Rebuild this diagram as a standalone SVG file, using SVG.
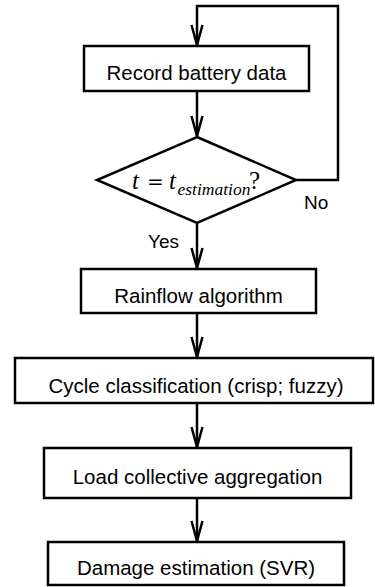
<svg xmlns="http://www.w3.org/2000/svg" width="375" height="587" viewBox="0 0 375 587">
<style>
.box{fill:#fff;stroke:#000;stroke-width:2.5}
.lbl{font-family:"Liberation Sans",Arial,sans-serif;font-size:20.5px;fill:#000;text-anchor:middle}
.edge{fill:none;stroke:#000;stroke-width:2.5}
.small{font-family:"Liberation Sans",Arial,sans-serif;font-size:19px;fill:#000}
.math{font-family:"Liberation Serif","Times New Roman",serif;fill:#000}
</style>
<defs>
<marker id="arr" markerUnits="userSpaceOnUse" markerWidth="24" markerHeight="14" viewBox="-22 -7 24 14" refX="0" refY="0" orient="auto">
<path d="M-20,-5.5 L0,0 L-20,5.5" fill="none" stroke="#000" stroke-width="2.5"/>
</marker>
</defs>
<g id="connectors">
<path class="edge" d="M296,180 H338 V6 H197 V45" marker-end="url(#arr)"/>
<path class="edge" d="M197,91 V136" marker-end="url(#arr)"/>
<path class="edge" d="M197,223 V268" marker-end="url(#arr)"/>
<path class="edge" d="M197,313 V357" marker-end="url(#arr)"/>
<path class="edge" d="M197,403 V447" marker-end="url(#arr)"/>
<path class="edge" d="M197,498 V541" marker-end="url(#arr)"/>
<text class="small" x="304" y="209">No</text>
<text class="small" x="148" y="248">Yes</text>
</g>
<g id="record">
<rect class="box" x="84" y="46" width="225" height="45"/>
<text class="lbl" x="196.5" y="80">Record battery data</text>
</g>
<g id="decision">
<path class="box" d="M197,137 L296,180 L197,223 L97,180 Z"/>
<text class="math" font-size="25" y="189"><tspan x="132" font-style="italic">t</tspan><tspan x="147" font-family="'DejaVu Serif',serif" font-size="20">=</tspan><tspan x="169" font-style="italic">t</tspan><tspan x="177.5" y="195" font-size="17.5" font-style="italic">estimation</tspan><tspan x="249" y="189">?</tspan></text>
</g>
<g id="rainflow">
<rect class="box" x="81" y="269" width="235" height="44"/>
<text class="lbl" x="198.5" y="303">Rainflow algorithm</text>
</g>
<g id="cycle">
<rect class="box" x="15" y="358" width="358" height="45"/>
<text class="lbl" x="196" y="393">Cycle classification (crisp; fuzzy)</text>
</g>
<g id="load">
<rect class="box" x="44" y="448" width="307" height="50"/>
<text class="lbl" x="197.5" y="484">Load collective aggregation</text>
</g>
<g id="damage">
<rect class="box" x="48" y="542" width="296" height="43"/>
<text class="lbl" x="196" y="575">Damage estimation (SVR)</text>
</g>
</svg>
